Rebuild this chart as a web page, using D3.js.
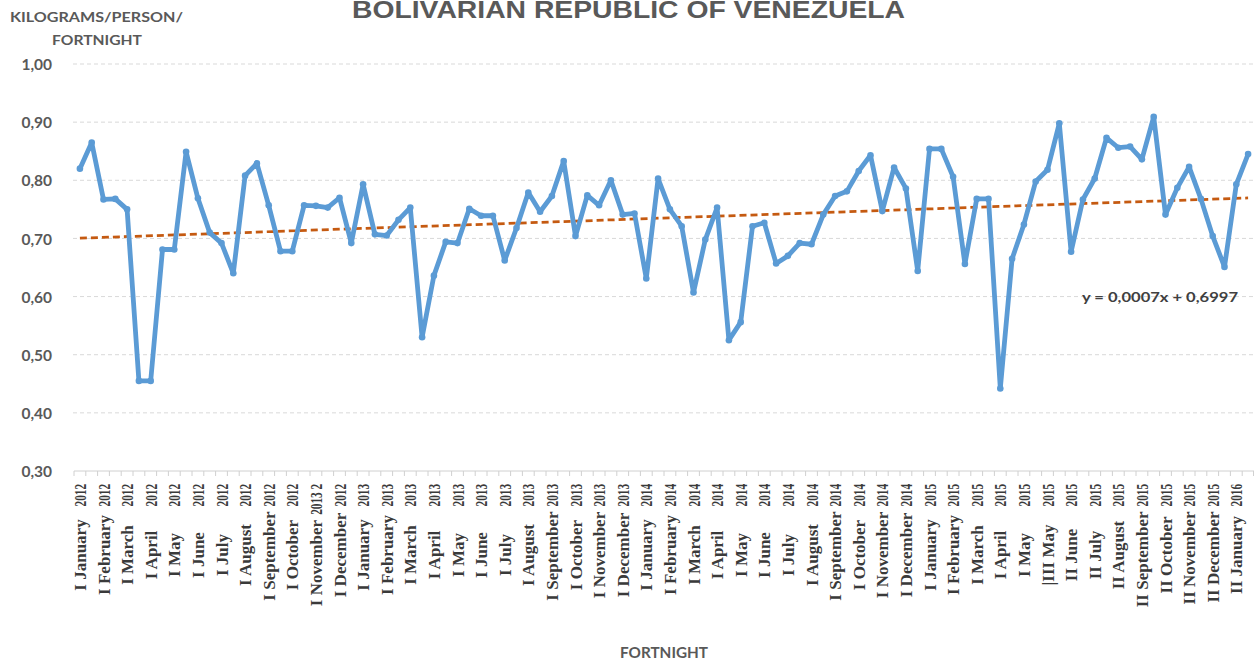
<!DOCTYPE html>
<html>
<head>
<meta charset="utf-8">
<script src="https://cdn.jsdelivr.net/npm/d3@7"></script>
<style>
  html, body { margin: 0; padding: 0; background: #ffffff; }
  svg { display: block; }
</style>
</head>
<body>
<svg id="chart" width="1254" height="660"></svg>
<script>
// ---------- DATA ----------
const chartTitle = "BOLIVARIAN REPUBLIC OF VENEZUELA";
const yAxisTitle = ["KILOGRAMS/PERSON/", "FORTNIGHT"];
const xAxisTitle = "FORTNIGHT";

// kilograms per person per fortnight (one value per fortnight)
const values = [
  0.820, 0.865, 0.767, 0.768, 0.750, 0.455, 0.455, 0.681, 0.681, 0.849,
  0.769, 0.710, 0.692, 0.640, 0.808, 0.829, 0.757, 0.678, 0.678, 0.757,
  0.756, 0.753, 0.770, 0.692, 0.793, 0.707, 0.705, 0.732, 0.753, 0.530,
  0.636, 0.694, 0.692, 0.751, 0.739, 0.739, 0.662, 0.718, 0.779, 0.746,
  0.773, 0.833, 0.704, 0.774, 0.757, 0.800, 0.741, 0.743, 0.631, 0.803,
  0.750, 0.721, 0.607, 0.698, 0.753, 0.525, 0.556, 0.721, 0.727, 0.657,
  0.670, 0.692, 0.690, 0.741, 0.773, 0.781, 0.816, 0.843, 0.747, 0.822,
  0.786, 0.644, 0.854, 0.854, 0.806, 0.656, 0.768, 0.768, 0.442, 0.665,
  0.724, 0.798, 0.818, 0.898, 0.677, 0.767, 0.803, 0.873, 0.856, 0.858,
  0.836, 0.909, 0.741, 0.787, 0.823, 0.768, 0.704, 0.651, 0.793, 0.845
];

// category labels shown on the axis (every second fortnight)
const tickLabels = [
  "I January 2012", "I February 2012", "I March 2012", "I April 2012", "I May 2012",
  "I June 2012", "I July 2012", "I August 2012", "I September 2012", "I October 2012",
  "I November 2013 2", "I December 2012", "I January 2013", "I February 2013", "I March 2013",
  "I April 2013", "I May 2013", "I June 2013", "I July 2013", "I August 2013",
  "I September 2013", "I October 2013", "I November 2013", "I December 2013", "I January 2014",
  "I February 2014", "I March 2014", "I April 2014", "I May 2014", "I June 2014",
  "I July 2014", "I August 2014", "I September 2014", "I October 2014", "I November 2014",
  "I December 2014", "I January 2015", "I February 2015", "I March 2015", "I April 2015",
  "I May 2015", "|III May 2015", "II June 2015", "II July 2015", "II August 2015",
  "II September 2015", "II October 2015", "II November 2015", "II December 2015", "II January 2016"
];
const tickEvery = 2;

const yTicks = [0.30, 0.40, 0.50, 0.60, 0.70, 0.80, 0.90, 1.00];
const yDomain = [0.30, 1.00];

// linear trend shown on the chart: y = 0,0007x + 0,6997 (x = 1..n)
const trendSlope = 0.0007;
const trendIntercept = 0.6997;
const trendLabel = "y = 0,0007x + 0,6997";

// ---------- LAYOUT ----------
const svg = d3.select("#chart");
const plot = { left: 74, right: 1254, top: 64, bottom: 471 };

const x = d3.scaleBand()
  .domain(d3.range(values.length))
  .range([plot.left, plot.right])
  .paddingInner(0).paddingOuter(0);
const xc = i => x(i) + x.bandwidth() / 2;

const y = d3.scaleLinear().domain(yDomain).range([plot.bottom, plot.top]);

const locale = d3.formatLocale({ decimal: ",", thousands: ".", grouping: [3], currency: ["", ""] });
const fmt = locale.format(".2f");

const textGray = "#595959";

// ---------- GRIDLINES ----------
svg.append("g")
  .selectAll("line")
  .data(yTicks.filter(t => t > yDomain[0]))
  .join("line")
  .attr("x1", plot.left - 1).attr("x2", plot.right)
  .attr("y1", d => y(d)).attr("y2", d => y(d))
  .attr("stroke", "#d9d9d9").attr("stroke-width", 1)
  .attr("stroke-dasharray", "4,3");

// ---------- Y AXIS LABELS ----------
const yAxis = d3.axisLeft(y).tickValues(yTicks).tickFormat(fmt).tickSize(0).tickPadding(0);
const yg = svg.append("g").attr("transform", `translate(52,0)`).call(yAxis);
yg.select(".domain").remove();
yg.selectAll("text")
  .attr("fill", textGray)
  .style("font-family", "Lato, 'Open Sans', sans-serif")
  .style("font-weight", "bold")
  .style("font-size", "15.5px")
  .attr("dy", "0.36em");

// ---------- X AXIS ----------
const xAxisG = svg.append("g");
xAxisG.append("line")
  .attr("x1", plot.left).attr("x2", plot.right)
  .attr("y1", plot.bottom).attr("y2", plot.bottom)
  .attr("stroke", "#d0d0d0").attr("stroke-width", 1);
xAxisG.selectAll("line.tick")
  .data(d3.range(values.length + 1))
  .join("line")
  .attr("class", "tick")
  .attr("x1", i => i < values.length ? x(i) : plot.right - 0.5)
  .attr("x2", i => i < values.length ? x(i) : plot.right - 0.5)
  .attr("y1", plot.bottom).attr("y2", plot.bottom + 5)
  .attr("stroke", "#d0d0d0").attr("stroke-width", 1);

const labelFont = "'Liberation Serif', 'DejaVu Serif', serif";
const labelSize = 17;
const yearSqueeze = 0.66;
const labelG = svg.append("g");
tickLabels.forEach((lab, k) => {
  const idx = k * tickEvery;
  const m = lab.match(/^(.*?)\s+(\d{4}.*)$/);
  const monthPart = m ? m[1] : lab;
  const yearPart = m ? m[2] : "";
  const cx = xc(idx) + 6;
  const g = labelG.append("g");
  const yr = g.append("text")
    .attr("transform", `translate(${cx},484) rotate(-90) scale(${yearSqueeze},1)`)
    .attr("text-anchor", "end")
    .attr("fill", "#3a3a3a")
    .style("font-family", labelFont)
    .style("font-weight", "bold")
    .style("font-size", labelSize + "px")
    .text(yearPart);
  const yLen = yr.node().getComputedTextLength() * yearSqueeze;
  const mo = g.append("text")
    .attr("fill", "#3a3a3a")
    .style("font-family", labelFont)
    .style("font-weight", "bold")
    .style("font-size", labelSize + "px")
    .attr("text-anchor", "middle")
    .text(monthPart);
  const mLen = mo.node().getComputedTextLength();
  const center = Math.max(555, 484 + yLen + 5 + mLen / 2);
  mo.attr("transform", `translate(${cx},${center}) rotate(-90)`);
});

// ---------- TREND LINE ----------
const n = values.length;
const trendPts = [0, n - 1].map(i => ({ i, v: trendSlope * (i + 1) + trendIntercept }));
svg.append("path")
  .datum(trendPts)
  .attr("fill", "none")
  .attr("stroke", "#c55a11")
  .attr("stroke-width", 2.75)
  .attr("stroke-dasharray", "7,4")
  .attr("d", d3.line().x(d => xc(d.i)).y(d => y(d.v)));

// ---------- DATA LINE ----------
const series = values.map((v, i) => ({ i, v }));
svg.append("path")
  .datum(series)
  .attr("fill", "none")
  .attr("stroke", "#5b9bd5")
  .attr("stroke-width", 4.8)
  .attr("stroke-linejoin", "round")
  .attr("d", d3.line().x(d => xc(d.i)).y(d => y(d.v)));

svg.append("g")
  .selectAll("circle")
  .data(series)
  .join("circle")
  .attr("cx", d => xc(d.i))
  .attr("cy", d => y(d.v))
  .attr("r", 3.3)
  .attr("fill", "#5b9bd5");

// ---------- TEXTS ----------
svg.append("text")
  .attr("x", 352).attr("y", 18)
  .attr("textLength", 553).attr("lengthAdjust", "spacingAndGlyphs")
  .attr("fill", textGray)
  .style("font-family", "'Liberation Sans', Arial, sans-serif")
  .style("font-weight", "bold")
  .style("font-size", "24px")
  .text(chartTitle);

svg.append("text")
  .attr("x", 10).attr("y", 22)
  .attr("textLength", 173).attr("lengthAdjust", "spacingAndGlyphs")
  .attr("fill", textGray)
  .style("font-family", "Lato, 'Open Sans', sans-serif")
  .style("font-weight", "bold")
  .style("font-size", "14px")
  .text(yAxisTitle[0]);
svg.append("text")
  .attr("x", 52).attr("y", 45)
  .attr("textLength", 90).attr("lengthAdjust", "spacingAndGlyphs")
  .attr("fill", textGray)
  .style("font-family", "Lato, 'Open Sans', sans-serif")
  .style("font-weight", "bold")
  .style("font-size", "14px")
  .text(yAxisTitle[1]);

svg.append("text")
  .attr("x", 620).attr("y", 658)
  .attr("textLength", 88).attr("lengthAdjust", "spacingAndGlyphs")
  .attr("fill", textGray)
  .style("font-family", "Lato, 'Open Sans', sans-serif")
  .style("font-weight", "bold")
  .style("font-size", "15px")
  .text(xAxisTitle);

svg.append("text")
  .attr("x", 1082).attr("y", 302)
  .attr("textLength", 156).attr("lengthAdjust", "spacingAndGlyphs")
  .attr("fill", "#404040")
  .style("font-family", "Lato, 'Open Sans', sans-serif")
  .style("font-weight", "bold")
  .style("font-size", "14px")
  .text(trendLabel);
</script>
</body>
</html>
